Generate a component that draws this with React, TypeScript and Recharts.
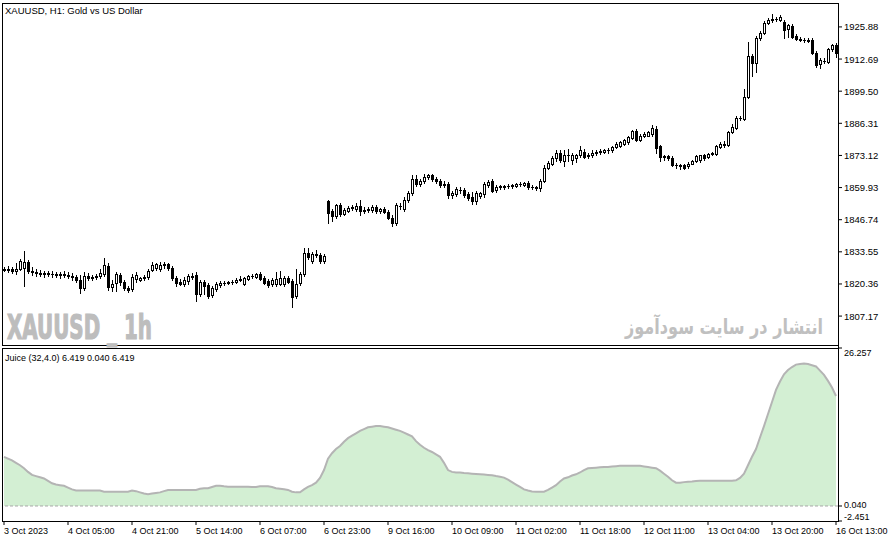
import React from "react"
import {
  ComposedChart,
  Bar,
  Area,
  XAxis,
  YAxis,
  ReferenceLine
} from "recharts"

// bar positions that carry a date label on the time axis
const labelIndex = [0, 16, 32, 48, 64, 80, 96, 112, 128, 144, 160, 176, 192, 208]
const dateLabels = [
  "3 Oct 2023", "4 Oct 05:00", "4 Oct 21:00", "5 Oct 14:00", "6 Oct 07:00",
  "6 Oct 23:00", "9 Oct 16:00", "10 Oct 09:00", "11 Oct 02:00", "11 Oct 18:00",
  "12 Oct 11:00", "13 Oct 04:00", "13 Oct 20:00", "16 Oct 13:00"
]

const priceTicks = [1807.17, 1820.36, 1833.55, 1846.74, 1859.93, 1873.12, 1886.31, 1899.5, 1912.69, 1925.88]
const juiceTicks = [26.257, 0.04, -2.451]

// XAUUSD H1 candles
const opens = [
  1826.5, 1826.1, 1826.5, 1825.7, 1826.5, 1826.9, 1829.4, 1825.7, 1825.3, 1824.9,
  1824.4, 1824.9, 1824.4, 1824.4, 1824.0, 1824.4, 1824.0, 1823.6, 1823.2, 1822.0,
  1818.7, 1823.6, 1822.8, 1823.2, 1823.6, 1824.4, 1827.7, 1819.1, 1820.7, 1824.0,
  1821.1, 1818.7, 1818.3, 1822.4, 1822.0, 1822.8, 1823.2, 1826.1, 1826.9, 1826.5,
  1828.2, 1828.6, 1826.9, 1822.8, 1821.1, 1820.3, 1821.6, 1823.6, 1824.0, 1816.2,
  1821.1, 1819.9, 1815.8, 1818.3, 1819.9, 1820.7, 1820.7, 1821.1, 1821.1, 1822.0,
  1820.3, 1822.4, 1823.6, 1823.2, 1824.4, 1822.8, 1821.6, 1820.3, 1820.3, 1820.3,
  1820.3, 1822.8, 1821.6, 1815.4, 1820.7, 1824.4, 1833.1, 1829.8, 1832.7, 1832.3,
  1829.8, 1854.5, 1850.4, 1848.4, 1852.9, 1849.2, 1850.4, 1851.7, 1851.2, 1852.5,
  1850.4, 1850.8, 1850.8, 1852.1, 1850.4, 1851.2, 1850.0, 1847.5, 1845.5, 1852.5,
  1851.2, 1854.9, 1857.8, 1863.6, 1861.5, 1862.8, 1864.4, 1864.9, 1863.6, 1862.8,
  1861.1, 1861.5, 1857.0, 1857.4, 1859.0, 1859.0, 1857.4, 1856.1, 1854.5, 1856.6,
  1857.4, 1861.1, 1862.8, 1859.0, 1860.3, 1860.3, 1860.7, 1860.7, 1860.7, 1861.5,
  1861.1, 1861.9, 1860.3, 1860.3, 1859.9, 1862.8, 1868.1, 1869.4, 1871.9, 1874.3,
  1871.0, 1873.1, 1871.4, 1871.9, 1873.1, 1874.7, 1872.7, 1873.1, 1874.3, 1874.7,
  1874.7, 1875.2, 1875.2, 1876.4, 1876.8, 1878.0, 1878.5, 1880.1, 1883.0, 1879.3,
  1881.3, 1881.3, 1881.8, 1883.8, 1876.8, 1872.3, 1872.7, 1871.9, 1869.0, 1869.0,
  1869.0, 1868.6, 1869.8, 1871.0, 1871.4, 1873.1, 1872.3, 1873.9, 1873.9, 1876.4,
  1878.0, 1877.2, 1882.6, 1884.2, 1888.4, 1887.9, 1897.0, 1913.9, 1911.0, 1921.3,
  1923.4, 1927.5, 1928.8, 1929.2, 1928.8, 1927.9, 1925.0, 1926.3, 1922.2, 1920.9,
  1920.5, 1920.5, 1920.5, 1915.1, 1910.6, 1911.8, 1911.4, 1916.8, 1918.4
]

const highs = [
  1827.3, 1827.7, 1827.3, 1829.0, 1830.6, 1833.9, 1830.2, 1827.3, 1826.5, 1826.1,
  1825.7, 1825.7, 1825.7, 1825.3, 1825.3, 1825.7, 1825.3, 1824.9, 1824.0, 1824.0,
  1825.3, 1824.9, 1824.0, 1824.4, 1826.5, 1831.0, 1829.0, 1822.0, 1825.3, 1824.9,
  1822.0, 1819.5, 1824.4, 1825.3, 1823.2, 1824.0, 1826.5, 1829.4, 1829.0, 1829.4,
  1829.4, 1829.0, 1827.7, 1823.6, 1822.4, 1823.2, 1824.4, 1824.9, 1825.3, 1822.0,
  1822.0, 1820.7, 1819.5, 1821.1, 1821.6, 1821.6, 1821.6, 1822.0, 1822.8, 1823.6,
  1823.2, 1824.0, 1824.4, 1824.9, 1825.3, 1823.6, 1822.4, 1822.8, 1825.3, 1825.7,
  1823.6, 1823.6, 1822.4, 1826.5, 1825.3, 1835.2, 1835.2, 1833.5, 1834.3, 1833.1,
  1832.7, 1854.9, 1851.2, 1853.3, 1853.7, 1851.7, 1852.5, 1852.9, 1853.7, 1854.9,
  1852.1, 1852.1, 1852.9, 1852.9, 1851.7, 1852.1, 1850.8, 1848.8, 1853.7, 1853.7,
  1856.1, 1858.6, 1864.9, 1864.9, 1863.6, 1865.3, 1865.7, 1865.7, 1864.4, 1863.6,
  1862.8, 1862.4, 1858.6, 1860.3, 1860.3, 1859.9, 1858.2, 1858.2, 1858.6, 1858.2,
  1862.4, 1863.2, 1863.6, 1861.1, 1861.1, 1861.1, 1861.5, 1861.5, 1861.9, 1862.4,
  1862.4, 1862.8, 1861.1, 1860.7, 1863.6, 1869.0, 1871.0, 1872.7, 1875.2, 1875.2,
  1875.2, 1875.6, 1874.3, 1873.9, 1876.8, 1875.6, 1874.3, 1875.2, 1875.2, 1875.6,
  1875.6, 1876.0, 1876.8, 1878.5, 1878.9, 1879.7, 1880.9, 1883.4, 1883.8, 1881.8,
  1882.6, 1883.0, 1885.5, 1885.1, 1877.6, 1873.5, 1873.5, 1872.7, 1870.2, 1869.8,
  1869.8, 1870.6, 1871.4, 1873.1, 1873.5, 1873.9, 1874.3, 1874.7, 1877.2, 1878.5,
  1878.9, 1883.0, 1885.9, 1889.2, 1889.2, 1900.3, 1919.7, 1914.7, 1922.2, 1924.2,
  1928.3, 1929.6, 1931.2, 1930.0, 1930.8, 1928.8, 1927.1, 1927.1, 1923.0, 1921.7,
  1921.3, 1921.3, 1921.3, 1916.0, 1913.1, 1913.1, 1917.2, 1918.9, 1919.3
]

const lows = [
  1825.7, 1825.3, 1824.9, 1824.4, 1826.1, 1819.5, 1824.9, 1824.0, 1823.6, 1823.6,
  1823.2, 1823.6, 1823.2, 1823.2, 1822.8, 1823.2, 1822.8, 1822.0, 1821.1, 1816.6,
  1817.8, 1822.0, 1822.0, 1822.4, 1822.8, 1823.6, 1817.8, 1817.4, 1817.4, 1819.9,
  1817.8, 1817.0, 1817.4, 1821.1, 1821.6, 1822.0, 1822.4, 1825.7, 1826.1, 1825.7,
  1826.9, 1826.1, 1822.0, 1819.5, 1819.9, 1819.5, 1820.3, 1822.4, 1813.3, 1815.4,
  1816.2, 1814.5, 1815.0, 1817.4, 1819.1, 1819.9, 1820.3, 1820.3, 1820.7, 1821.6,
  1819.9, 1822.0, 1822.8, 1822.8, 1822.0, 1820.3, 1819.1, 1819.5, 1819.5, 1819.9,
  1819.5, 1820.7, 1810.8, 1814.5, 1819.9, 1823.6, 1830.6, 1829.0, 1831.5, 1829.0,
  1829.0, 1845.5, 1846.3, 1847.5, 1848.4, 1848.8, 1850.0, 1850.8, 1850.4, 1848.8,
  1849.6, 1850.0, 1850.0, 1849.6, 1849.6, 1849.6, 1847.1, 1844.2, 1844.6, 1851.2,
  1850.4, 1854.1, 1857.0, 1860.7, 1860.7, 1861.9, 1863.6, 1862.8, 1861.9, 1860.3,
  1860.3, 1855.7, 1855.7, 1856.6, 1857.8, 1856.1, 1854.9, 1853.3, 1853.3, 1855.7,
  1856.1, 1860.3, 1858.2, 1858.2, 1859.5, 1859.5, 1859.9, 1859.9, 1860.3, 1860.7,
  1860.7, 1859.5, 1859.5, 1859.0, 1858.6, 1862.4, 1867.7, 1869.0, 1871.0, 1870.6,
  1868.6, 1871.0, 1869.4, 1870.6, 1872.3, 1871.9, 1871.9, 1872.3, 1873.5, 1873.9,
  1874.3, 1874.3, 1874.7, 1876.0, 1876.4, 1877.6, 1878.0, 1879.7, 1878.9, 1878.9,
  1880.5, 1880.9, 1881.3, 1874.3, 1871.0, 1871.4, 1871.4, 1868.6, 1868.1, 1867.7,
  1867.7, 1868.1, 1869.4, 1870.6, 1870.6, 1871.4, 1871.9, 1873.1, 1873.5, 1876.0,
  1876.4, 1876.8, 1882.2, 1883.8, 1887.5, 1887.5, 1896.6, 1905.7, 1907.3, 1920.5,
  1923.0, 1927.1, 1927.9, 1928.3, 1928.3, 1921.3, 1921.7, 1921.3, 1920.5, 1920.1,
  1919.7, 1919.7, 1914.7, 1909.4, 1909.0, 1911.0, 1911.0, 1916.0, 1913.5
]

const closes = [
  1826.1, 1826.5, 1825.7, 1826.5, 1829.8, 1829.4, 1825.7, 1825.3, 1824.9, 1824.4,
  1824.9, 1824.4, 1824.5, 1824.0, 1824.4, 1824.0, 1823.6, 1823.2, 1822.0, 1818.7,
  1823.6, 1822.8, 1823.2, 1823.6, 1824.9, 1828.2, 1819.1, 1820.3, 1824.4, 1821.1,
  1818.7, 1817.8, 1823.2, 1824.0, 1822.8, 1823.2, 1825.7, 1828.2, 1828.6, 1828.2,
  1828.6, 1826.9, 1822.8, 1820.7, 1820.3, 1822.0, 1823.6, 1823.2, 1816.2, 1821.1,
  1819.5, 1815.4, 1818.7, 1820.3, 1820.7, 1820.8, 1821.1, 1821.2, 1822.0, 1822.4,
  1822.8, 1823.6, 1823.7, 1824.4, 1822.4, 1820.7, 1819.9, 1822.0, 1822.4, 1822.8,
  1822.8, 1821.1, 1815.0, 1820.3, 1824.4, 1833.1, 1831.5, 1832.7, 1832.3, 1829.8,
  1831.9, 1849.6, 1848.4, 1852.9, 1849.2, 1850.8, 1851.7, 1852.1, 1852.5, 1850.4,
  1850.8, 1851.2, 1852.1, 1850.4, 1851.2, 1850.0, 1847.5, 1845.5, 1852.9, 1852.4,
  1854.9, 1857.8, 1863.6, 1861.5, 1862.8, 1864.4, 1864.9, 1863.6, 1862.8, 1861.1,
  1861.5, 1857.0, 1857.8, 1859.5, 1859.1, 1857.0, 1855.7, 1854.5, 1857.8, 1857.8,
  1861.5, 1862.4, 1858.6, 1860.3, 1860.4, 1860.7, 1860.6, 1861.1, 1861.5, 1861.6,
  1861.9, 1860.3, 1860.2, 1859.9, 1862.8, 1868.1, 1870.2, 1871.9, 1874.3, 1871.4,
  1873.5, 1873.2, 1873.5, 1873.1, 1875.2, 1872.3, 1873.1, 1874.3, 1874.7, 1874.8,
  1875.2, 1875.3, 1876.4, 1878.0, 1878.5, 1879.3, 1880.5, 1883.0, 1879.3, 1881.3,
  1881.8, 1882.6, 1884.2, 1876.0, 1872.3, 1872.7, 1871.9, 1869.0, 1869.1, 1868.6,
  1868.1, 1869.8, 1871.0, 1872.7, 1873.1, 1871.9, 1873.9, 1874.0, 1876.8, 1878.0,
  1877.6, 1882.6, 1884.6, 1888.4, 1888.5, 1897.0, 1913.9, 1911.0, 1921.3, 1923.4,
  1927.5, 1928.8, 1929.2, 1929.1, 1930.0, 1924.6, 1926.7, 1921.7, 1920.9, 1920.5,
  1920.6, 1920.1, 1915.1, 1910.2, 1912.3, 1911.9, 1916.8, 1918.4, 1915.1
]

// Juice (32,4.0) indicator
const juice = [
  8.2, 7.9, 7.6, 7.2, 6.8, 6.3, 5.7, 5.2, 5.0, 4.8,
  4.6, 4.2, 3.8, 3.6, 3.5, 3.4, 3.1, 2.8, 2.6, 2.6,
  2.6, 2.6, 2.6, 2.6, 2.6, 2.4, 2.4, 2.4, 2.4, 2.4,
  2.4, 2.4, 2.6, 2.5, 2.3, 2.1, 2.0, 2.1, 2.2, 2.3,
  2.5, 2.7, 2.7, 2.7, 2.7, 2.7, 2.7, 2.7, 2.7, 2.9,
  3.0, 3.0, 3.2, 3.4, 3.4, 3.3, 3.25, 3.25, 3.25, 3.25,
  3.25, 3.25, 3.2, 3.2, 3.3, 3.3, 3.3, 3.2, 3.0, 2.9,
  2.8, 2.7, 2.4, 2.3, 2.3, 2.8, 3.2, 3.5, 3.9, 4.7,
  6.0, 7.9, 8.8, 9.5, 10.0, 10.7, 11.3, 11.7, 12.1, 12.5,
  12.8, 13.1, 13.2, 13.3, 13.3, 13.2, 13.1, 12.9, 12.7, 12.5,
  12.2, 11.9, 11.6, 10.8, 10.2, 9.7, 9.3, 9.0, 8.6, 8.2,
  7.2, 6.0, 5.7, 5.6, 5.6, 5.5, 5.46, 5.4, 5.35, 5.3,
  5.25, 5.2, 5.15, 5.0, 4.9, 4.75, 4.4, 4.0, 3.6, 3.2,
  2.8, 2.6, 2.45, 2.4, 2.4, 2.4, 2.7, 3.1, 3.5, 4.1,
  4.6, 4.8, 5.1, 5.3, 5.6, 6.0, 6.3, 6.35, 6.4, 6.45,
  6.5, 6.5, 6.6, 6.65, 6.7, 6.7, 6.7, 6.7, 6.7, 6.7,
  6.6, 6.5, 6.4, 6.3, 5.9, 5.4, 4.9, 4.3, 3.9, 3.9,
  4.0, 4.05, 4.1, 4.2, 4.24, 4.24, 4.24, 4.24, 4.24, 4.24,
  4.24, 4.24, 4.24, 4.3, 4.7, 5.4, 6.8, 8.2, 9.5, 11.4,
  13.3, 15.3, 17.3, 19.3, 20.7, 21.9, 22.6, 23.1, 23.5, 23.6,
  23.7, 23.6, 23.4, 23.2, 22.5, 21.8, 20.8, 19.7, 18.3
]

const candles = opens.map((open, i) => ({
  idx: i,
  open,
  high: highs[i],
  low: lows[i],
  close: closes[i],
  range: [lows[i], highs[i]]
}))

const juiceData = juice.map((v, i) => ({ idx: i, juice: v }))

const FONT = "'Liberation Sans', Arial, sans-serif"

function Candle(props: any) {
  const { x, y, width, height, payload } = props
  if (!payload) return null
  const { open, close, high, low } = payload
  const cx = Math.round(x + width / 2) + 0.5
  const k = height / (high - low)
  const py = (v: number) => y + (high - v) * k
  const top = Math.round(py(Math.max(open, close))) + 0.5
  const bottom = Math.round(py(Math.min(open, close))) + 0.5
  const bull = close >= open

  return (
    <g shapeRendering="crispEdges">
      <line x1={cx} x2={cx} y1={Math.round(y)} y2={Math.round(y + height) + 1} stroke="#000" strokeWidth={1} />
      {bottom - top < 1 ? (
        <line x1={cx - 1.5} x2={cx + 1.5} y1={top} y2={top} stroke="#000" strokeWidth={1} />
      ) : (
        <rect x={cx - 1} y={top} width={2} height={bottom - top} fill={bull ? "#fff" : "#000"} stroke="#000" strokeWidth={1} />
      )}
    </g>
  )
}

function PriceTick(props: any) {
  const { x, y, payload } = props
  return (
    <g>
      <line x1={x} x2={x + 4} y1={y} y2={y} stroke="#000" />
      <text x={x + 6} y={y + 3.5} fontSize={9.5} fontFamily={FONT} fill="#000">
        {payload.value.toFixed(2)}
      </text>
    </g>
  )
}

function JuiceTick(props: any) {
  const { x, y, payload } = props
  const v = payload.value
  // top and bottom labels sit inside the pane, like the terminal draws them
  const dy = v > 20 ? 8 : v < 0 ? -1.5 : 2
  return (
    <g>
      <line x1={x} x2={x + 4} y1={y} y2={y} stroke="#000" />
      <text x={x + 6} y={y + dy} fontSize={9} fontFamily={FONT} fill="#000">
        {v.toFixed(3)}
      </text>
    </g>
  )
}

function DateTick(props: any) {
  const { x, y, payload } = props
  const label = dateLabels[labelIndex.indexOf(payload.value)]
  return (
    <g>
      <line x1={x} x2={x} y1={y} y2={y + 4} stroke="#000" />
      <text x={x} y={y + 13} fontSize={9} fontFamily={FONT} fill="#000">
        {label}
      </text>
    </g>
  )
}

export default function App() {
  return (
    <div style={{ position: "absolute", left: 0, top: 0, width: 892, height: 541, background: "#fff", overflow: "hidden" }}>

      <div style={{ position: "absolute", left: 0, top: 0 }}>
        <ComposedChart
          width={892}
          height={348}
          data={candles}
          margin={{ top: 3, right: 0, bottom: 3, left: 2 }}
          barCategoryGap={0}
        >
          <XAxis dataKey="idx" type="number" domain={[-0.5, 208.5]} hide />
          <YAxis
            orientation="right"
            width={54}
            domain={[1795.3, 1935.7]}
            ticks={priceTicks}
            allowDataOverflow
            axisLine={false}
            tickLine={false}
            tickSize={0}
            tickMargin={0}
            interval={0}
            tick={<PriceTick />}
          />
          <Bar dataKey="range" isAnimationActive={false} shape={(p: any) => <Candle {...p} />} />
        </ComposedChart>
      </div>

      <div style={{ position: "absolute", left: 0, top: 346 }}>
        <ComposedChart
          width={892}
          height={195}
          data={juiceData}
          margin={{ top: 2, right: 0, bottom: 0, left: 2 }}
        >
          <XAxis
            dataKey="idx"
            type="number"
            domain={[-0.5, 208.5]}
            ticks={labelIndex}
            interval={0}
            height={20}
            axisLine={false}
            tickLine={false}
            tickSize={0}
            tickMargin={0}
            tick={<DateTick />}
          />
          <YAxis
            orientation="right"
            width={54}
            domain={[-2.451, 26.257]}
            ticks={juiceTicks}
            allowDataOverflow
            axisLine={false}
            tickLine={false}
            tickSize={0}
            tickMargin={0}
            interval={0}
            tick={<JuiceTick />}
          />
          <Area
            type="linear"
            dataKey="juice"
            baseValue={0.04}
            stroke="#b4b4b4"
            strokeWidth={2}
            fill="#d3efd3"
            fillOpacity={1}
            dot={false}
            activeDot={false}
            isAnimationActive={false}
          />
          <ReferenceLine y={0.04} stroke="#a8a8a8" strokeDasharray="3 2" />
        </ComposedChart>
      </div>

      {/* pane frames */}
      <div style={{ position: "absolute", left: 2, top: 3, width: 837, height: 343, border: "1px solid #000", boxSizing: "border-box", pointerEvents: "none" }} />
      <div style={{ position: "absolute", left: 2, top: 348, width: 837, height: 174, border: "1px solid #000", boxSizing: "border-box", pointerEvents: "none" }} />
      <div style={{ position: "absolute", left: 838, top: 3, width: 1, height: 519, background: "#000" }} />

      <svg width={892} height={541} style={{ position: "absolute", left: 0, top: 0, pointerEvents: "none" }}>
        <text x={5} y={14} fontSize={9.5} fontFamily={FONT} fill="#000">XAUUSD, H1:  Gold vs US Dollar</text>
        <text
          x={7}
          y={339}
          fontSize={34}
          fontWeight="bold"
          fontFamily="'Liberation Sans Narrow', 'DejaVu Sans Condensed', Arial, sans-serif"
          fill="#bdbdbd"
          stroke="#bdbdbd"
          strokeWidth={1.2}
          textLength={145}
          lengthAdjust="spacingAndGlyphs"
        >
          XAUUSD _ 1h
        </text>
        <text
          transform="translate(625 334) scale(1 1.3)"
          x={0}
          y={0}
          fontSize={16}
          fontWeight="bold"
          fontFamily="'DejaVu Sans', sans-serif"
          fill="#c0c0c0"
          textLength={198}
          lengthAdjust="spacingAndGlyphs"
        >
          انتشار در سایت سودآموز
        </text>
        <text x={5} y={361} fontSize={9} fontFamily={FONT} fill="#000">Juice (32,4.0) 6.419 0.040 6.419</text>
      </svg>
    </div>
  )
}
